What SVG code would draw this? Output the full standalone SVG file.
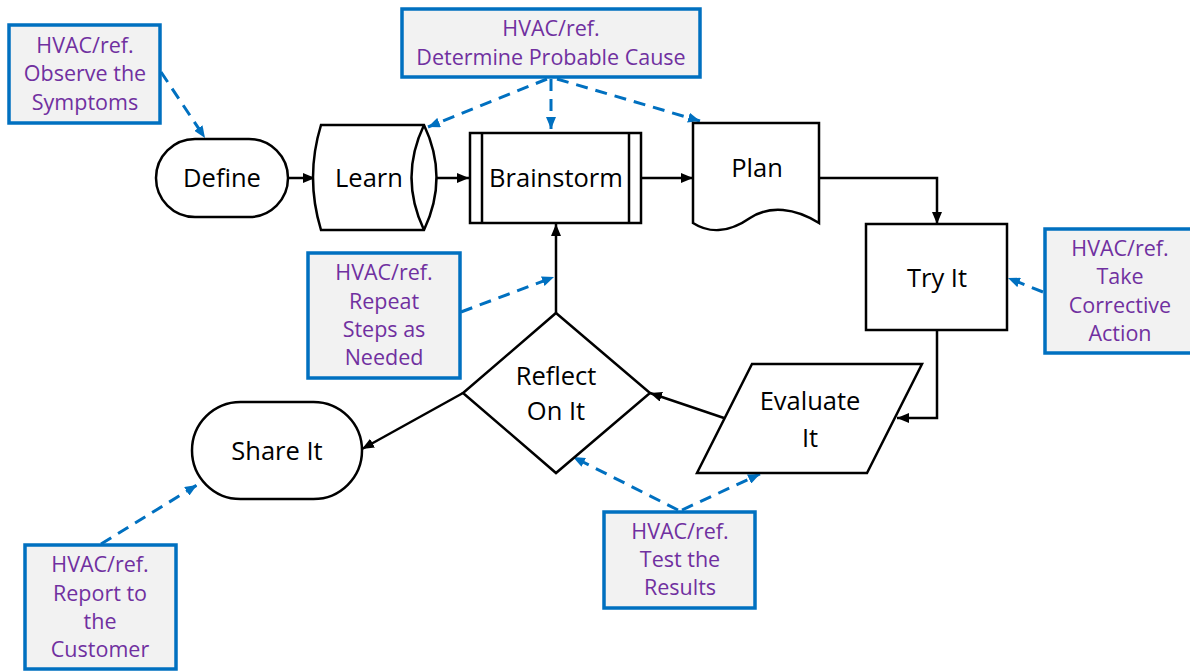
<svg xmlns="http://www.w3.org/2000/svg" width="1190" height="671" viewBox="0 0 1190 671">
<style>
.node{fill:#fff;stroke:#000;stroke-width:2.5}
.nt{font-family:"Open Sans","Noto Sans",sans-serif;font-size:25.5px;fill:#000;text-anchor:middle}
.note rect{fill:#F2F2F2;stroke:#0070C0;stroke-width:3.5}
.lt{font-family:"Open Sans","Noto Sans",sans-serif;font-size:21.5px;fill:#7030A0;text-anchor:middle}
.flow{fill:none;stroke:#000;stroke-width:2.5;marker-end:url(#ab)}
.ref{fill:none;stroke:#0070C0;stroke-width:3;stroke-dasharray:12 8;marker-end:url(#au)}
</style>
<defs>
<marker id="ab" viewBox="0 0 12 10" refX="12" refY="5" markerWidth="12" markerHeight="10" markerUnits="userSpaceOnUse" orient="auto">
<path d="M0,0 L12,5 L0,10 Z" fill="#000"/>
</marker>
<marker id="au" viewBox="0 0 12 10" refX="12" refY="5" markerWidth="12" markerHeight="10" markerUnits="userSpaceOnUse" orient="auto">
<path d="M0,0 L12,5 L0,10 Z" fill="#0070C0"/>
</marker>
</defs>
<rect width="1190" height="671" fill="#fff"/>

<g id="connectors">
<path class="flow" d="M288,178 L315,178"/>
<path class="flow" d="M437,178 L469,178"/>
<path class="flow" d="M641,178 L693,178"/>
<path class="flow" d="M819,178 L937,178 L937,224"/>
<path class="flow" d="M937,330 L937,418 L897,418"/>
<path class="flow" d="M724,418 L650,393"/>
<path class="flow" d="M556,313 L556,224"/>
<path class="flow" d="M463,393 L362,449"/>
<path class="ref" d="M161,72 L205,138"/>
<path class="ref" d="M547,79 L428,127"/>
<path class="ref" d="M551,79 L551,129"/>
<path class="ref" d="M557,79 L700,121"/>
<path class="ref" d="M1043,292 L1008,278"/>
<path class="ref" d="M461,312 L554,277"/>
<path class="ref" d="M678,510 L573,457"/>
<path class="ref" d="M682,510 L760,474"/>
<path class="ref" d="M101,544 L197,485"/>
</g>

<g id="define">
<rect class="node" x="156" y="139" width="132" height="78" rx="39"/>
<text class="nt" x="222" y="187">Define</text>
</g>
<g id="learn">
<path class="node" d="M321,125 L424,125 Q449,177.5 424,230 L321,230 Q305,177.5 321,125 Z"/>
<path class="node" fill="none" d="M424,125 Q399,177.5 424,230"/>
<text class="nt" x="369" y="187">Learn</text>
</g>
<g id="brainstorm">
<rect class="node" x="470" y="133" width="171" height="90"/>
<line class="node" x1="482" y1="133" x2="482" y2="223"/>
<line class="node" x1="629" y1="133" x2="629" y2="223"/>
<text class="nt" x="556" y="187">Brainstorm</text>
</g>
<g id="plan">
<path class="node" d="M693,123 L819,123 L819,223 C795,208 770,205 750,218 C730,232 710,234 693,223 Z"/>
<text class="nt" x="757" y="177">Plan</text>
</g>
<g id="tryit">
<rect class="node" x="866" y="224" width="141" height="106"/>
<text class="nt" x="937" y="287">Try It</text>
</g>
<g id="evaluate">
<path class="node" d="M752,364 L922,364 L867,473 L697,473 Z"/>
<text class="nt" x="810" y="410">Evaluate</text>
<text class="nt" x="810" y="447">It</text>
</g>
<g id="reflect">
<path class="node" d="M556,313 L650,393 L556,473 L463,393 Z"/>
<text class="nt" x="556" y="385">Reflect</text>
<text class="nt" x="556" y="420">On It</text>
</g>
<g id="shareit">
<rect class="node" x="192" y="402" width="170" height="97" rx="48.5"/>
<text class="nt" x="277" y="460">Share It</text>
</g>

<g id="note-observe" class="note">
<rect x="9" y="25" width="151" height="98"/>
<text class="lt" x="85" y="53">HVAC/ref.</text>
<text class="lt" x="85" y="81">Observe the</text>
<text class="lt" x="85" y="110">Symptoms</text>
</g>
<g id="note-cause" class="note">
<rect x="402" y="9" width="298" height="68"/>
<text class="lt" x="551" y="36">HVAC/ref.</text>
<text class="lt" x="551" y="65">Determine Probable Cause</text>
</g>
<g id="note-corrective" class="note">
<rect x="1045" y="229" width="150" height="124"/>
<text class="lt" x="1120" y="256">HVAC/ref.</text>
<text class="lt" x="1120" y="284">Take</text>
<text class="lt" x="1120" y="313">Corrective</text>
<text class="lt" x="1120" y="341">Action</text>
</g>
<g id="note-repeat" class="note">
<rect x="308" y="253" width="152" height="125"/>
<text class="lt" x="384" y="280">HVAC/ref.</text>
<text class="lt" x="384" y="309">Repeat</text>
<text class="lt" x="384" y="337">Steps as</text>
<text class="lt" x="384" y="365">Needed</text>
</g>
<g id="note-test" class="note">
<rect x="604" y="512" width="151" height="96"/>
<text class="lt" x="680" y="539">HVAC/ref.</text>
<text class="lt" x="680" y="567">Test the</text>
<text class="lt" x="680" y="595">Results</text>
</g>
<g id="note-report" class="note">
<rect x="25" y="545" width="151" height="124"/>
<text class="lt" x="100" y="572">HVAC/ref.</text>
<text class="lt" x="100" y="601">Report to</text>
<text class="lt" x="100" y="629">the</text>
<text class="lt" x="100" y="657">Customer</text>
</g>
</svg>
